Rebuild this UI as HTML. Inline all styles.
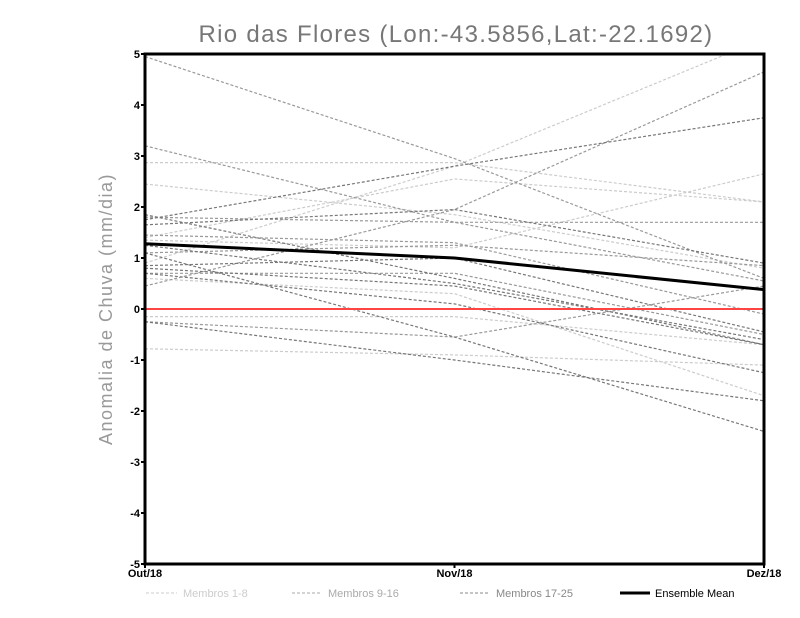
<!DOCTYPE html>
<html><head><meta charset="utf-8"><style>
body{margin:0;background:#fff;width:800px;height:618px;overflow:hidden}
svg{display:block}
text{font-family:"Liberation Sans",sans-serif}
</style></head><body>
<svg id="chart" width="800" height="618" viewBox="0 0 800 618">
<text x="456" y="42" text-anchor="middle" font-size="24" fill="#777" letter-spacing="1.3">Rio das Flores (Lon:-43.5856,Lat:-22.1692)</text>
<text transform="translate(112,309) rotate(-90)" text-anchor="middle" font-size="18" fill="#999" letter-spacing="1.5">Anomalia de Chuva (mm/dia)</text>
<g id="lines"></g>
<g id="axes"></g>
<g id="legend">
<line x1="146" y1="593" x2="177" y2="593" stroke="#ccc" stroke-dasharray="3,2"/>
<text x="183" y="597" font-size="11" fill="#ccc">Membros 1-8</text>
<line x1="292" y1="593" x2="322" y2="593" stroke="#aaa" stroke-dasharray="3,2"/>
<text x="328" y="597" font-size="11" fill="#aaa">Membros 9-16</text>
<line x1="460" y1="593" x2="490" y2="593" stroke="#888" stroke-dasharray="3,2"/>
<text x="496" y="597" font-size="11" fill="#888">Membros 17-25</text>
<line x1="620" y1="593" x2="650" y2="593" stroke="#000" stroke-width="3"/>
<text x="655" y="597" font-size="11" fill="#000">Ensemble Mean</text>
</g>
</svg>
<script>
const categories=["Out/18","Nov/18","Dez/18"];
const yTicks=[-5,-4,-3,-2,-1,0,1,2,3,4,5];
const membersLight=[[2.45,1.85,0.8],[2.87,2.87,2.1],[1.4,2.55,2.1],[0.9,2.8,5.3],[1.35,1.2,2.65],[-0.78,-0.9,-1.1],[0.6,0.3,-1.7],[-0.15,-0.15,-0.7]];
const membersMid=[[4.95,2.95,0.6],[3.2,1.7,0.55],[0.45,1.95,4.65],[1.8,1.7,1.7],[1.1,1.25,0.85],[-0.25,-0.55,0.45],[0.7,0.7,-0.5],[1.45,1.3,-0.1]];
const membersDark=[[1.65,1.95,0.9],[1.85,0.6,-0.7],[1.25,0.5,-0.6],[0.8,0.45,-0.7],[0.85,1.0,-0.45],[-0.25,-1.0,-1.8],[1.1,-0.55,-2.4],[0.7,0.1,-1.25],[1.75,2.8,3.75]];
const ensembleMean=[1.28,1.0,0.38];
const X0=145,X1=764,Y0=54,Y1=564,VMIN=-5,VMAX=5;
function xs(i){return X0+(X1-X0)*i/(categories.length-1);}
function ys(v){return Y1-(v-VMIN)/(VMAX-VMIN)*(Y1-Y0);}
const NS="http://www.w3.org/2000/svg";
function mk(t,a,p){const e=document.createElementNS(NS,t);for(const k in a)e.setAttribute(k,a[k]);p.appendChild(e);return e;}
const lines=document.getElementById('lines');
const clip=mk('clipPath',{id:'c'},lines);mk('rect',{x:X0,y:Y0,width:X1-X0,height:Y1-Y0},clip);
const lg=mk('g',{'clip-path':'url(#c)'},lines);
function pts(s){return s.map((v,i)=>xs(i)+','+ys(v)).join(' ');}
[[membersLight,'#ccc'],[membersMid,'#999'],[membersDark,'#777']].forEach(([set,col],gi)=>{
 set.forEach((s,i)=>{
  const p=mk('polyline',{points:pts(s),fill:'none',stroke:col,'stroke-width':1.2,'stroke-dasharray':'3,2'},lg);
  
  
 });
});
const zl=mk('line',{x1:X0,x2:X1,y1:ys(0),y2:ys(0),stroke:'#f44',"stroke-width":2},lg);


const ml=mk('polyline',{points:pts(ensembleMean),fill:'none',stroke:'#000','stroke-width':3},lg);


const ax=document.getElementById('axes');
const fr=mk('rect',{x:X0,y:Y0,width:X1-X0,height:Y1-Y0,fill:'none',stroke:'#000','stroke-width':3},ax);


yTicks.forEach(v=>{
 mk('line',{x1:X0-4,x2:X0,y1:ys(v),y2:ys(v),stroke:'#000','stroke-width':2},ax);
 const t=mk('text',{x:X0-5,y:ys(v)+4,'text-anchor':'end','font-size':11,'font-weight':'bold'},ax);
 t.textContent=v;
 
 
});
categories.forEach((c,i)=>{
 mk('line',{x1:xs(i),x2:xs(i),y1:Y1,y2:Y1+4,stroke:'#000','stroke-width':2},ax);
 const t=mk('text',{x:xs(i),y:Y1+13,'text-anchor':'middle','font-size':11,'font-weight':'bold'},ax);
 t.textContent=c;
 
 
});
</script>
</body></html>
